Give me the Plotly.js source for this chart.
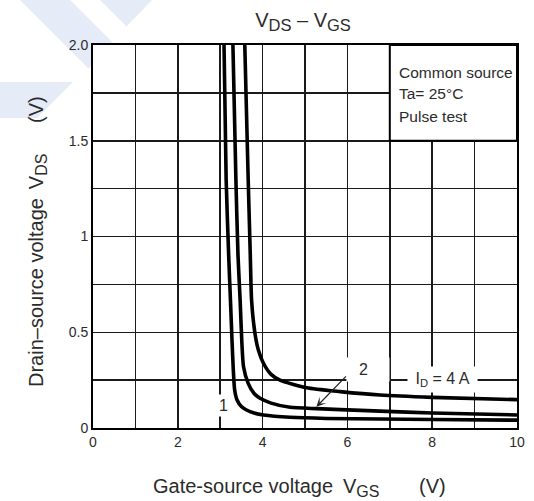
<!DOCTYPE html>
<html>
<head>
<meta charset="utf-8">
<script src="https://cdn.plot.ly/plotly-3.0.1.min.js"></script>
<style>html,body{margin:0;padding:0;background:#fff;}#chart{width:534px;height:501px;}</style>
</head>
<body>
<div id="chart"></div>
<script>
// ---- data ----
const id1_vgs = [3.09, 3.14, 3.20, 3.245, 3.28, 3.31, 3.34, 3.40, 3.50, 3.62, 3.80, 4.02, 4.65, 5.50, 6.77, 8.00, 10.0];
const id1_vds = [2.00, 1.30, 0.90, 0.65, 0.45, 0.30, 0.20, 0.145, 0.112, 0.094, 0.078, 0.068, 0.056, 0.050, 0.047, 0.044, 0.041];

const id2_vgs = [3.30, 3.37, 3.42, 3.47, 3.51, 3.55, 3.66, 3.80, 3.94, 4.20, 4.65, 5.27, 5.83, 6.77, 8.00, 10.0];
const id2_vds = [2.00, 1.30, 0.90, 0.668, 0.45, 0.32, 0.233, 0.18, 0.155, 0.13, 0.108, 0.101, 0.096, 0.088, 0.078, 0.068];

const id4_vgs = [3.58, 3.66, 3.71, 3.74, 3.82, 3.90, 4.02, 4.20, 4.41, 5.04, 5.83, 6.77, 8.00, 10.0];
const id4_vds = [2.00, 1.30, 0.90, 0.668, 0.494, 0.407, 0.338, 0.28, 0.25, 0.21, 0.19, 0.172, 0.16, 0.148];

const xTickVals = [0, 2, 4, 6, 8, 10];
const xTickText = ['0', '2', '4', '6', '8', '10'];
const yTickVals = [0, 0.5, 1, 1.5, 2];
const yTickText = ['0', '0.5', '1', '1.5', '2.0'];

const curveLabels = ['1', '2', 'I<sub>D</sub> = 4 A'];
const noteLines = ['Common source', 'Ta= 25°C', 'Pulse test'];

// ---- layout helpers ----
const W = 534, H = 501, ML = 93, MR = 17, MT = 45, MB = 73;
const PW = W - ML - MR, PH = H - MT - MB;
function P(px, py) { return ((px - ML) / PW).toFixed(4) + ',' + ((H - MB - py) / PH).toFixed(4); }
function poly(pts) { return 'M' + pts.map(p => P(p[0], p[1])).join('L') + 'Z'; }
function sub(t, s) { return '<sub><span style="font-size:' + s + 'px">' + t + '</span></sub>'; }

const FONT = 'Liberation Sans, Arial, Helvetica, sans-serif';
const TXT = '#2b2b2b';

const lineStyle = {color: '#000', width: 3.6, shape: 'spline', smoothing: 0.6};
const traces = [
  {x: id1_vgs, y: id1_vds, mode: 'lines', line: lineStyle, hoverinfo: 'skip'},
  {x: id2_vgs, y: id2_vds, mode: 'lines', line: lineStyle, hoverinfo: 'skip'},
  {x: id4_vgs, y: id4_vds, mode: 'lines', line: lineStyle, hoverinfo: 'skip'}
];

const wm = '#e5ebf7';
const shapes = [
  {type: 'path', xref: 'paper', yref: 'paper', layer: 'below', fillcolor: wm, line: {width: 0},
   path: poly([[20,0],[70,0],[115,45],[93,45],[93,64],[88.5,68.5]])},
  {type: 'path', xref: 'paper', yref: 'paper', layer: 'below', fillcolor: wm, line: {width: 0},
   path: poly([[100,0],[152,0],[126.5,26.5]])},
  {type: 'path', xref: 'paper', yref: 'paper', layer: 'below', fillcolor: wm, line: {width: 0},
   path: poly([[0,82],[73,82],[37,118],[0,118]])},
  {type: 'rect', xref: 'x', yref: 'y', x0: 7, x1: 10, y0: 1.5, y1: 2.0, layer: 'above',
   fillcolor: '#fff', line: {color: '#000', width: 2}}
];

const nb = '\u00a0';
const annotations = [
  {x: 3.085, y: 0.116, xref: 'x', yref: 'y', text: curveLabels[0], showarrow: false,
   bgcolor: '#fff', borderpad: 2, font: {family: FONT, size: 16, color: TXT}},
  {x: 5.967, y: 0.306, xref: 'x', yref: 'y', xanchor: 'left', text: nb + nb + curveLabels[1] + nb + nb + nb + nb, showarrow: false,
   bgcolor: '#fff', borderpad: 3, font: {family: FONT, size: 16, color: TXT}},
  {x: 8.24, y: 0.251, xref: 'x', yref: 'y', text: nb + curveLabels[2] + nb, showarrow: false,
   bgcolor: '#fff', borderpad: 3, font: {family: FONT, size: 16, color: TXT}},
  {x: 5.27, y: 0.111, ax: 6.0, ay: 0.277, xref: 'x', yref: 'y', axref: 'x', ayref: 'y', text: '',
   showarrow: true, arrowhead: 3, arrowsize: 1.3, arrowwidth: 1.2, arrowcolor: '#222', standoff: 0},
  {x: 7.16, y: 1.854, xref: 'x', yref: 'y', xanchor: 'left', text: noteLines[0], showarrow: false,
   font: {family: FONT, size: 15.5, color: TXT}},
  {x: 7.16, y: 1.747, xref: 'x', yref: 'y', xanchor: 'left', text: noteLines[1], showarrow: false,
   font: {family: FONT, size: 15.5, color: TXT}},
  {x: 7.16, y: 1.629, xref: 'x', yref: 'y', xanchor: 'left', text: noteLines[2], showarrow: false,
   font: {family: FONT, size: 15.5, color: TXT}},
  // x axis title pieces
  {x: (243 - ML) / PW, y: -0.1175, xref: 'paper', yref: 'paper', yanchor: 'top', text: 'Gate-source voltage',
   showarrow: false, font: {family: FONT, size: 20, color: TXT}},
  {x: (380.5 - ML) / PW, y: -0.1175, xref: 'paper', yref: 'paper', yanchor: 'top', text: 'V' + sub('GS', 16),
   showarrow: false, font: {family: FONT, size: 20, color: TXT}},
  {x: (448 - ML) / PW, y: -0.1175, xref: 'paper', yref: 'paper', yanchor: 'top', text: '(V)',
   showarrow: false, font: {family: FONT, size: 20, color: TXT}},
  // y axis title pieces
  {x: (23 - ML) / PW, y: (H - MB - 293) / PH, xref: 'paper', yref: 'paper', textangle: -90,
   text: 'Drain–source voltage', showarrow: false, font: {family: FONT, size: 20, color: TXT}},
  {x: (23 - ML) / PW, y: (H - MB - 151.7) / PH, xref: 'paper', yref: 'paper', textangle: -90,
   text: 'V' + sub('DS', 16), showarrow: false, font: {family: FONT, size: 20, color: TXT}},
  {x: (23 - ML) / PW, y: (H - MB - 94.5) / PH, xref: 'paper', yref: 'paper', textangle: -90,
   text: '(V)', showarrow: false, font: {family: FONT, size: 20, color: TXT}}
];

const gridC = '#1a1a1a';
const layout = {
  width: W, height: H,
  margin: {l: ML, r: MR, t: MT, b: MB, pad: 0},
  paper_bgcolor: 'rgba(0,0,0,0)', plot_bgcolor: '#fff',
  showlegend: false,
  font: {family: FONT, color: TXT, size: 14},
  title: {text: 'V' + sub('DS', 16.5) + ' – V' + sub('GS', 16.5), x: (303 - ML) / PW, xref: 'paper', xanchor: 'center',
          y: 1 - 20 / H, yref: 'container', yanchor: 'middle', font: {family: FONT, size: 20, color: TXT}},
  xaxis: {range: [0, 10], tickmode: 'array', tickvals: xTickVals, ticktext: xTickText, ticks: '',
          showgrid: true, gridcolor: gridC, gridwidth: 1.5, zeroline: false,
          showline: true, linecolor: '#000', linewidth: 2, mirror: true,
          minor: {dtick: 1, tick0: 0, showgrid: true, gridcolor: gridC, gridwidth: 1.5},
          tickfont: {family: FONT, size: 14, color: TXT}, fixedrange: true},
  yaxis: {range: [0, 2], tickmode: 'array', tickvals: yTickVals, ticktext: yTickText, ticks: '',
          showgrid: true, gridcolor: gridC, gridwidth: 1.5, zeroline: false,
          showline: true, linecolor: '#000', linewidth: 2, mirror: true,
          minor: {dtick: 0.25, tick0: 0, showgrid: true, gridcolor: gridC, gridwidth: 1.5},
          tickfont: {family: FONT, size: 14, color: TXT}, fixedrange: true},
  shapes: shapes,
  annotations: annotations
};

Plotly.newPlot('chart', traces, layout, {staticPlot: true, displayModeBar: false});
</script>
</body>
</html>
